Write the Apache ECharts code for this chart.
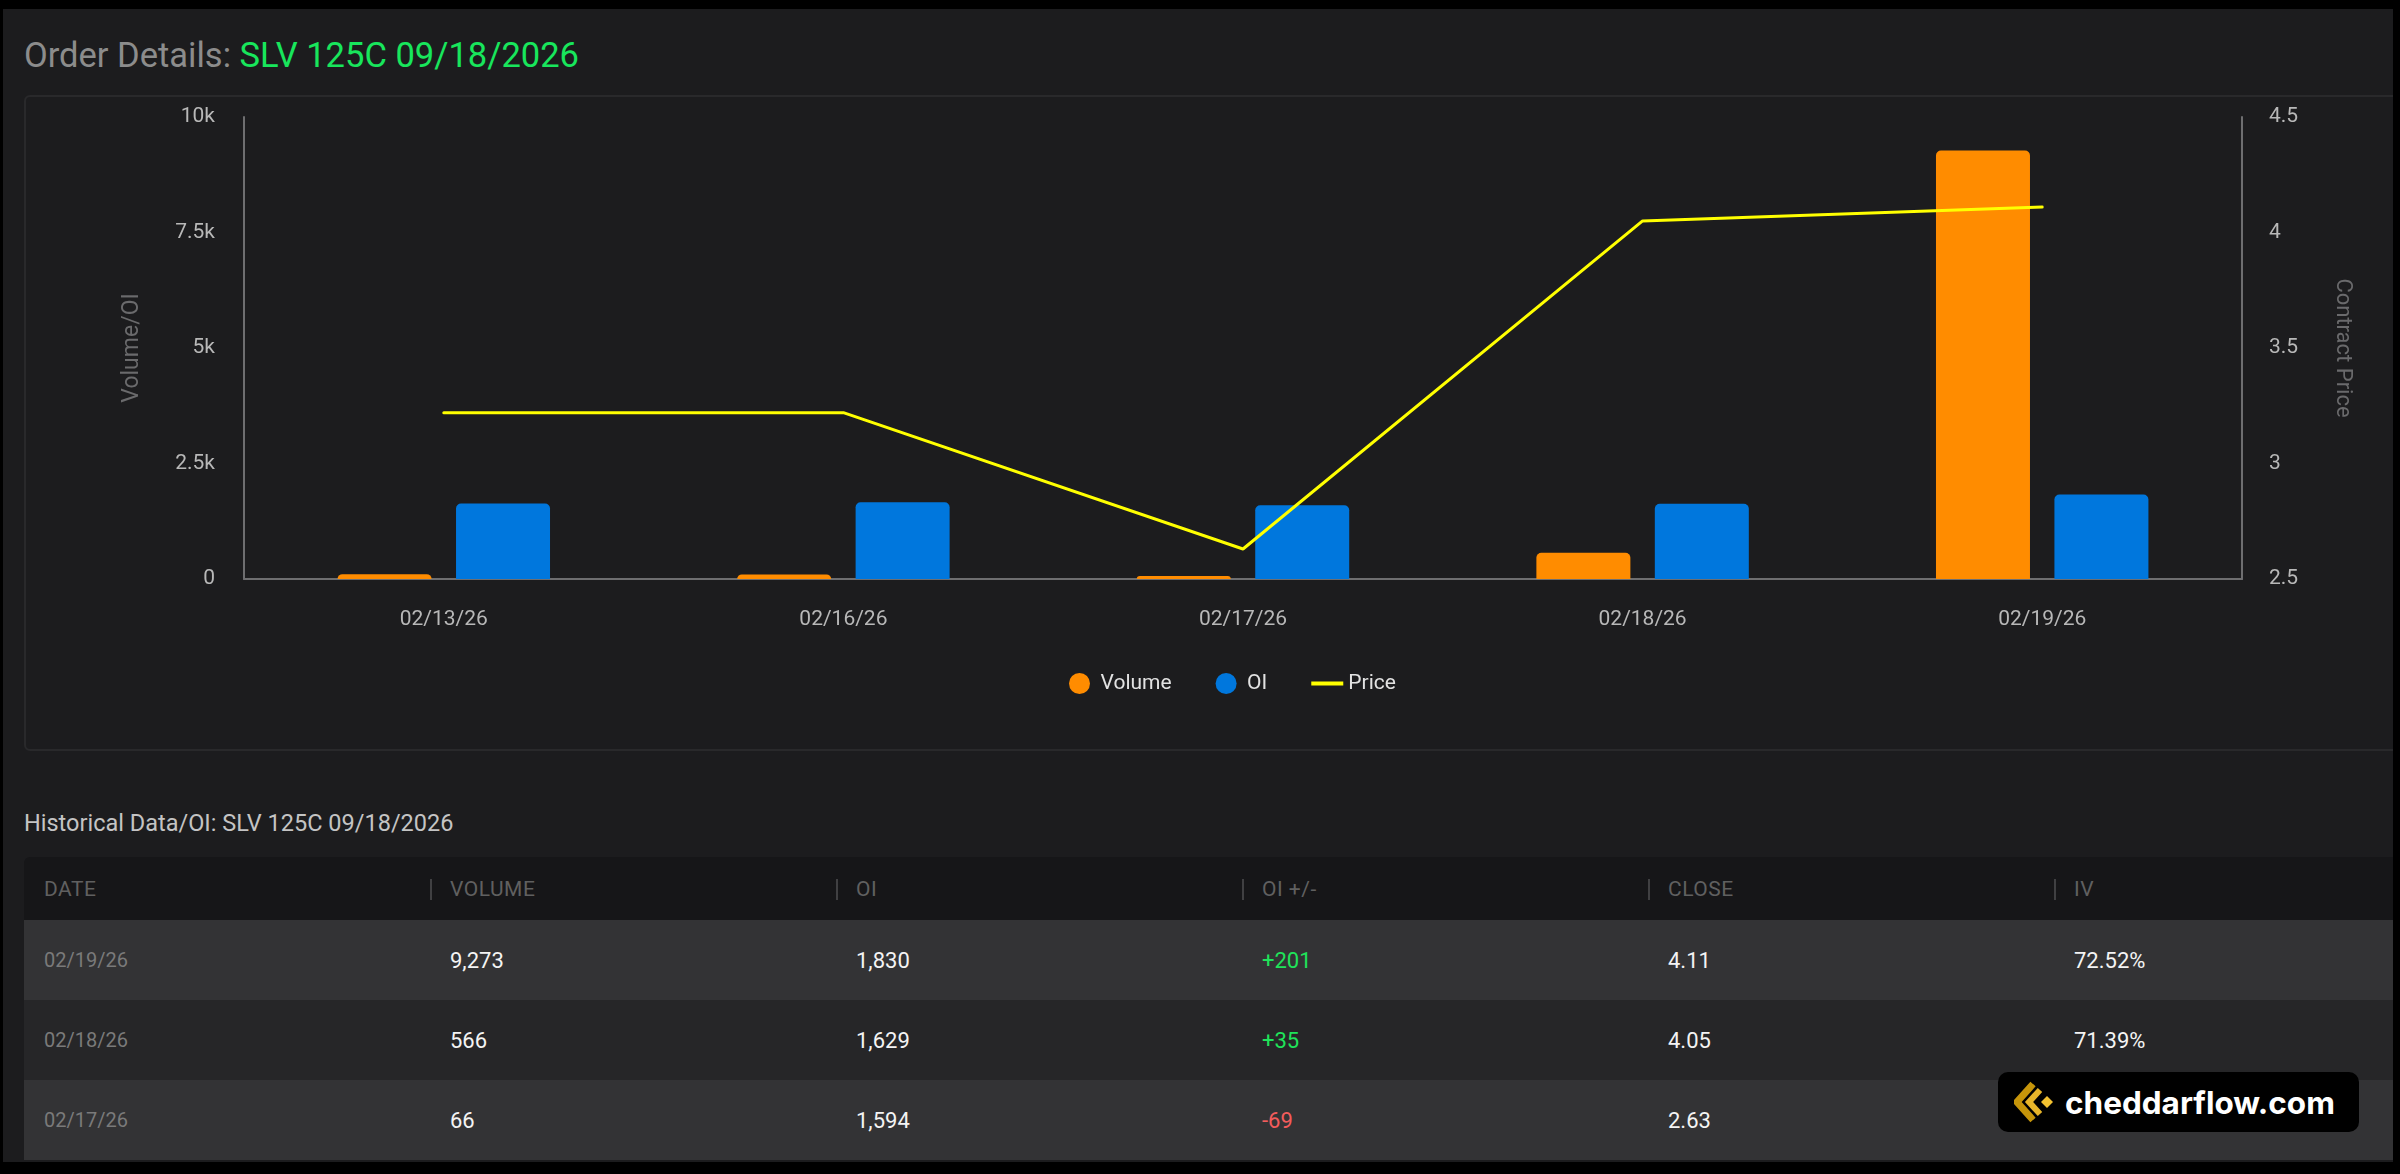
<!DOCTYPE html>
<html>
<head>
<meta charset="utf-8">
<script src="https://cdn.jsdelivr.net/npm/echarts@6/dist/echarts.min.js"></script>
<style>
  html, body { margin: 0; padding: 0; background: #000; }
  body { width: 2400px; height: 1174px; position: relative; overflow: hidden; font-family: Roboto, 'Noto Sans', sans-serif; }
  .panel { position: absolute; left: 3px; top: 9px; width: 2390px; height: 1153px; background: #1c1c1e; overflow: hidden; }
  .title { position: absolute; left: 21px; top: 25px; font-size: 34.5px; line-height: 42px; color: #8c8c8c; white-space: nowrap; }
  .title .contract { color: #18e65c; }
  .chart-box { position: absolute; left: 21px; top: 86px; width: 2420px; height: 656px; border: 2px solid #29292b; border-radius: 6px; box-sizing: border-box; }
  #chart { position: absolute; left: 21px; top: 86px; width: 2376px; height: 658px; }
  .hist-title { position: absolute; left: 21px; top: 800px; font-size: 23.5px; line-height: 28px; color: #c4c4c4; white-space: nowrap; }
  .table { position: absolute; left: 21px; top: 848px; width: 2436px; }
  .row { display: flex; height: 80px; align-items: center; }
  .row.head { height: 63px; background: #161618; border-radius: 6px 6px 0 0; }
  .row.odd { background: #333335; }
  .row.even { background: #262628; }
  .cell { width: 406px; box-sizing: border-box; padding-left: 20px; position: relative; white-space: nowrap; }
  .head .cell { font-size: 21px; color: #606060; letter-spacing: 0.5px; }
  .head .cell.sep::before { content: ''; position: absolute; left: 0; top: 2px; width: 2px; height: 21px; background: #404042; }
  .row .cell.date { font-size: 20px; color: #7a7a7a; }
  .row .cell.val { font-size: 22px; color: #f4f4f4; }
  .pos { color: #1fe35a !important; }
  .neg { color: #f25c5c !important; }
  .logo { position: absolute; left: 1995px; top: 1063px; width: 361px; height: 60px; background: #000; border-radius: 10px; display: flex; align-items: center; }
  .logo svg { margin-left: 16px; }
  .logo span { margin-left: 9px; font-family: Inter, 'Noto Sans', sans-serif; font-weight: 700; font-size: 31.5px; color: #fff; }
</style>
</head>
<body>
<div class="panel">
  <div class="title">Order Details: <span class="contract">SLV 125C 09/18/2026</span></div>
  <div class="chart-box"></div>
  <div id="chart"></div>
  <div class="hist-title">Historical Data/OI: SLV 125C 09/18/2026</div>
  <div class="table" id="table"></div>
  <div class="logo">
    <svg width="42" height="42" viewBox="0 0 42 42">
      <polyline points="19,3 3,21 19,39" fill="none" stroke="#c6950a" stroke-width="7" stroke-linejoin="miter"/>
      <polyline points="26,9 15,21 26,33" fill="none" stroke="#e7b52a" stroke-width="6" stroke-linejoin="miter"/>
      <polygon points="33,15 39,21 33,27 27,21" fill="#f3c230"/>
    </svg>
    <span>cheddarflow.com</span>
  </div>
</div>
<script>
// chart data
const dates = ['02/13/26', '02/16/26', '02/17/26', '02/18/26', '02/19/26'];
const volume = [104, 100, 66, 566, 9273];
const openInterest = [1635, 1663, 1594, 1629, 1830];
const price = [3.22, 3.22, 2.63, 4.05, 4.11];

// table data (newest first)
const tableHeaders = ['DATE', 'VOLUME', 'OI', 'OI +/-', 'CLOSE', 'IV'];
const tableDates = ['02/19/26', '02/18/26', '02/17/26'];
const tableVolume = ['9,273', '566', '66'];
const tableOI = ['1,830', '1,629', '1,594'];
const tableOIChange = ['+201', '+35', '-69'];
const tableClose = ['4.11', '4.05', '2.63'];
const tableIV = ['72.52%', '71.39%', ''];

const axisColor = '#6e6e70';
const labelColor = '#b8b8b8';

// build the table
const table = document.getElementById('table');
let html = '<div class="row head">' + tableHeaders.map((h, i) =>
    `<div class="cell${i ? ' sep' : ''}">${h}</div>`).join('') + '</div>';
tableDates.forEach((d, i) => {
    const chg = tableOIChange[i];
    html += `<div class="row ${i % 2 ? 'even' : 'odd'}">
        <div class="cell date">${d}</div>
        <div class="cell val">${tableVolume[i]}</div>
        <div class="cell val">${tableOI[i]}</div>
        <div class="cell val ${chg.startsWith('-') ? 'neg' : 'pos'}">${chg}</div>
        <div class="cell val">${tableClose[i]}</div>
        <div class="cell val">${tableIV[i]}</div>
    </div>`;
});
table.innerHTML = html;

const chart = echarts.init(document.getElementById('chart'), null, { renderer: 'canvas' });

chart.setOption({
    backgroundColor: 'transparent',
    animation: false,
    textStyle: { fontFamily: 'Roboto' },
    grid: { left: 220, top: 22, width: 1998, height: 462 },
    legend: {
        left: 1040,
        top: 573,
        itemWidth: 32,
        itemHeight: 21,
        itemGap: 44,
        symbolKeepAspect: true,
        textStyle: { color: '#e2e2e2', fontSize: 21 },
        data: [
            { name: 'Volume', icon: 'circle' },
            { name: 'OI', icon: 'circle' },
            { name: 'Price', icon: 'path://M0,0L32,0L32,4L0,4Z' },
        ],
    },
    xAxis: {
        type: 'category',
        data: dates,
        axisLine: { lineStyle: { color: axisColor, width: 2 } },
        axisTick: { show: false },
        axisLabel: { color: labelColor, fontSize: 21, margin: 30 },
        splitLine: { show: false },
    },
    yAxis: [
        {
            type: 'value',
            min: 0,
            max: 10000,
            interval: 2500,
            name: 'Volume/OI',
            nameLocation: 'middle',
            nameGap: 100,
            nameTextStyle: { color: '#6a6a6c', fontSize: 23 },
            axisLine: { show: true, lineStyle: { color: axisColor, width: 2 } },
            axisTick: { show: false },
            axisLabel: {
                color: labelColor,
                fontSize: 21,
                margin: 29,
                formatter: (v) => (v === 0 ? '0' : v / 1000 + 'k'),
            },
            splitLine: { show: false },
        },
        {
            type: 'value',
            position: 'right',
            min: 2.5,
            max: 4.5,
            interval: 0.5,
            name: 'Contract Price',
            nameLocation: 'middle',
            nameRotate: -90,
            nameGap: 89,
            nameTextStyle: { color: '#6a6a6c', fontSize: 22 },
            axisLine: { show: true, lineStyle: { color: axisColor, width: 2 } },
            axisTick: { show: false },
            axisLabel: { color: labelColor, fontSize: 21, margin: 27 },
            splitLine: { show: false },
        },
    ],
    series: [
        {
            name: 'Volume',
            type: 'bar',
            data: volume,
            barWidth: 94,
            barGap: '26%',
            itemStyle: { color: '#ff8c00', borderRadius: [5, 5, 0, 0] },
        },
        {
            name: 'OI',
            type: 'bar',
            data: openInterest,
            barWidth: 94,
            itemStyle: { color: '#0077dd', borderRadius: [5, 5, 0, 0] },
        },
        {
            name: 'Price',
            type: 'line',
            yAxisIndex: 1,
            data: price,
            symbol: 'none',
            z: 5,
            lineStyle: { color: '#ffff00', width: 3, cap: 'round' },
            itemStyle: { color: '#ffff00' },
        },
    ],
});
</script>
</body>
</html>
